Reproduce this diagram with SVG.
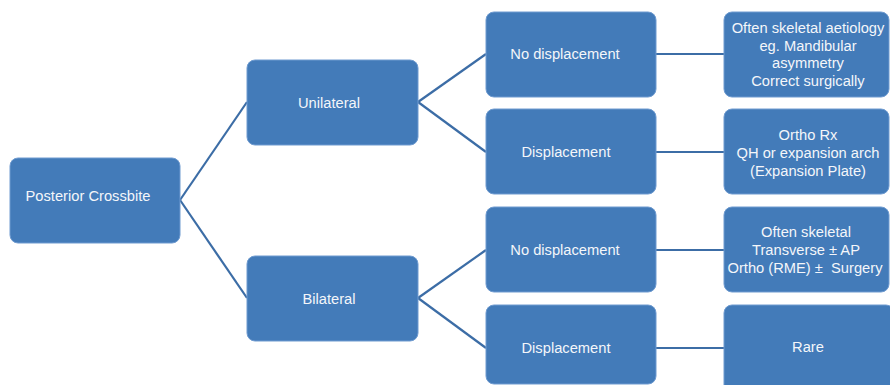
<svg xmlns="http://www.w3.org/2000/svg" width="890" height="385" viewBox="0 0 890 385">
  <style>
    .box { fill: #437bb9; stroke: #6f9bd0; stroke-width: 1; }
    .lbl { font-family: "Liberation Sans", Arial, sans-serif; font-size: 14.7px; fill: #f4f6fa; text-anchor: middle; dominant-baseline: central; white-space: pre; }
    .edge { stroke: #3c6da6; stroke-width: 2.2; fill: none; }
  </style>
  <rect width="890" height="385" fill="#ffffff"/>

  <!-- connectors -->
  <g id="connectors">
    <line class="edge" x1="180" y1="200" x2="247" y2="102"/>
    <line class="edge" x1="180" y1="200" x2="247" y2="298"/>
    <line class="edge" x1="418" y1="102" x2="486" y2="54"/>
    <line class="edge" x1="418" y1="102" x2="486" y2="152"/>
    <line class="edge" x1="418" y1="298" x2="486" y2="250"/>
    <line class="edge" x1="418" y1="298" x2="486" y2="348"/>
    <line class="edge" x1="656" y1="54" x2="724" y2="54"/>
    <line class="edge" x1="656" y1="152" x2="724" y2="152"/>
    <line class="edge" x1="656" y1="250" x2="724" y2="250"/>
    <line class="edge" x1="656" y1="348" x2="724" y2="348"/>
  </g>

  <g id="posterior-crossbite">
    <rect class="box" x="10" y="158" width="170" height="85" rx="8"/>
    <text class="lbl" x="88" y="196">Posterior Crossbite</text>
  </g>

  <g id="unilateral">
    <rect class="box" x="247" y="60" width="171" height="85" rx="8"/>
    <text class="lbl" x="329" y="103">Unilateral</text>
  </g>

  <g id="bilateral">
    <rect class="box" x="247" y="256" width="171" height="85" rx="8"/>
    <text class="lbl" x="329" y="299">Bilateral</text>
  </g>

  <g id="uni-no-displacement">
    <rect class="box" x="486" y="12" width="170" height="85" rx="8"/>
    <text class="lbl" x="565" y="54">No displacement</text>
  </g>

  <g id="uni-displacement">
    <rect class="box" x="486" y="109" width="170" height="85" rx="8"/>
    <text class="lbl" x="566" y="152">Displacement</text>
  </g>

  <g id="bi-no-displacement">
    <rect class="box" x="486" y="207" width="170" height="85" rx="8"/>
    <text class="lbl" x="565" y="250">No displacement</text>
  </g>

  <g id="bi-displacement">
    <rect class="box" x="486" y="305" width="170" height="79" rx="8"/>
    <text class="lbl" x="566" y="348">Displacement</text>
  </g>

  <g id="skeletal-aetiology">
    <rect class="box" x="724" y="12" width="165" height="85" rx="8"/>
    <text class="lbl" x="808" y="28">Often skeletal aetiology</text>
    <text class="lbl" x="808" y="46">eg. Mandibular</text>
    <text class="lbl" x="808" y="63">asymmetry</text>
    <text class="lbl" x="808" y="81">Correct surgically</text>
  </g>

  <g id="ortho-rx">
    <rect class="box" x="724" y="109" width="165" height="85" rx="8"/>
    <text class="lbl" x="808" y="135">Ortho Rx</text>
    <text class="lbl" x="808" y="153">QH or expansion arch</text>
    <text class="lbl" x="808" y="171">(Expansion Plate)</text>
  </g>

  <g id="often-skeletal">
    <rect class="box" x="724" y="207" width="165" height="85" rx="8"/>
    <text class="lbl" x="806" y="232">Often skeletal</text>
    <text class="lbl" x="806" y="250">Transverse ± AP</text>
    <text class="lbl" x="805" y="268" xml:space="preserve">Ortho (RME) ±  Surgery</text>
  </g>

  <g id="rare">
    <rect class="box" x="724" y="305" width="170" height="90" rx="8"/>
    <text class="lbl" x="808" y="347">Rare</text>
  </g>
</svg>
